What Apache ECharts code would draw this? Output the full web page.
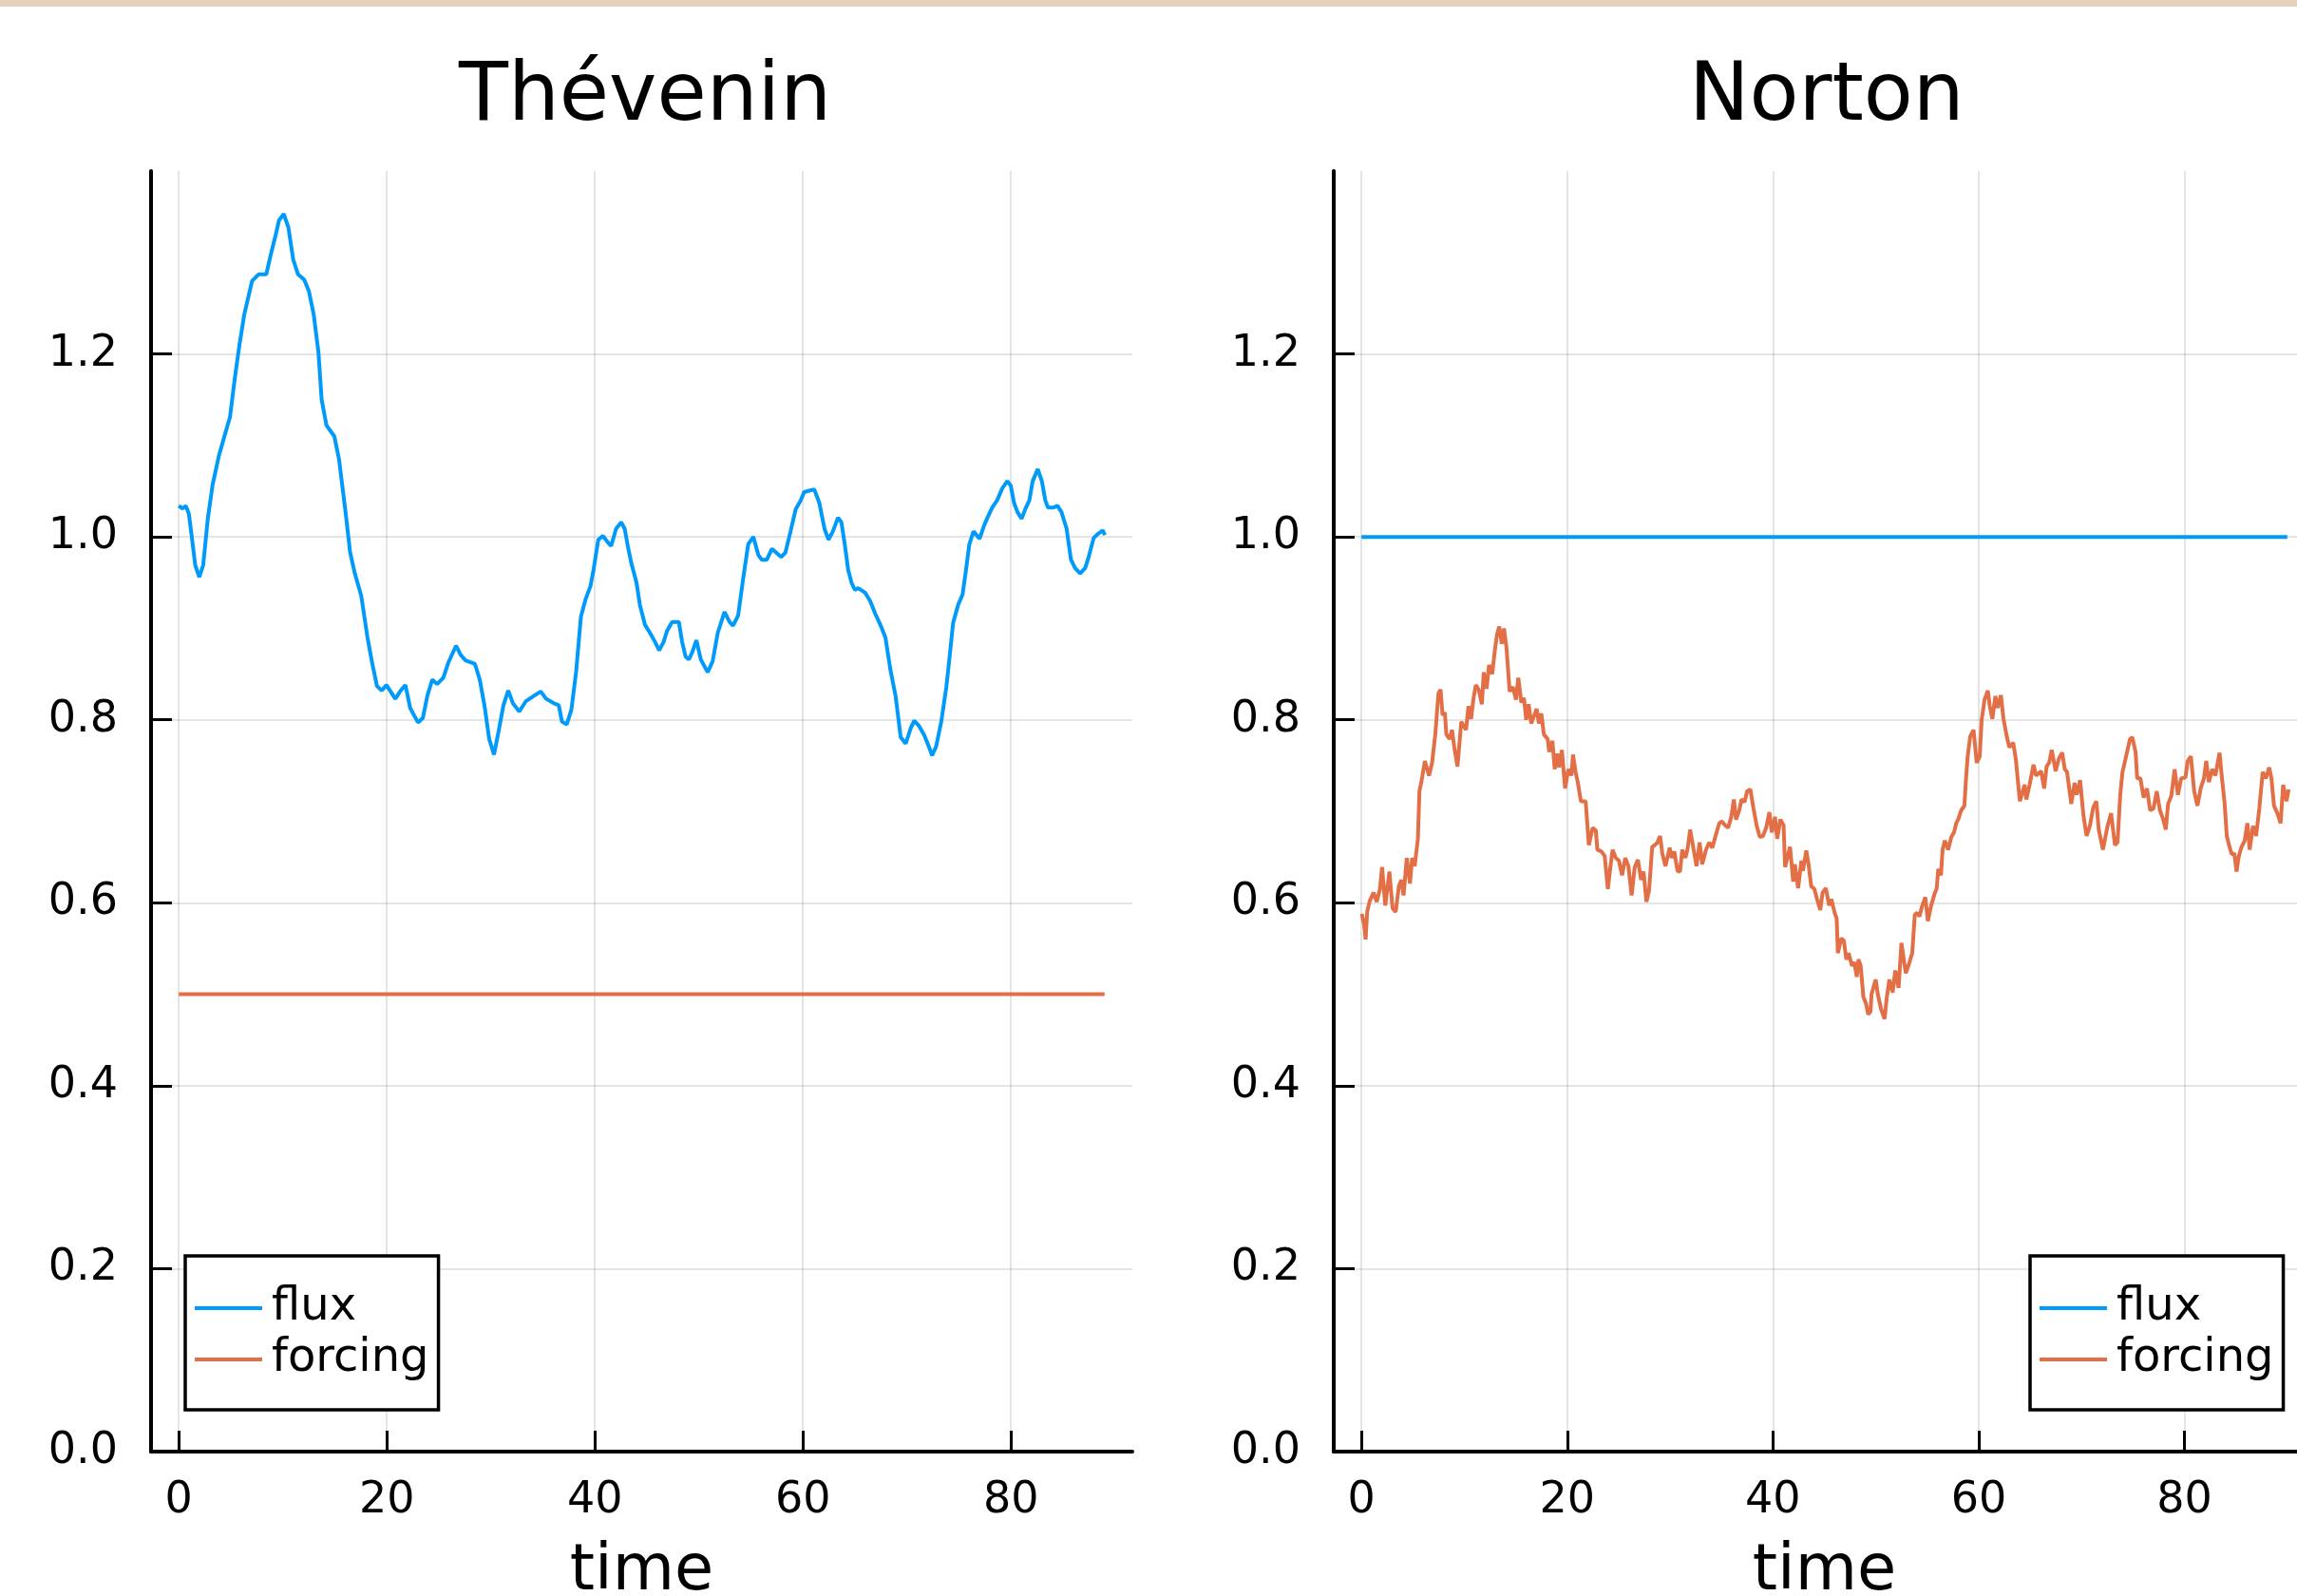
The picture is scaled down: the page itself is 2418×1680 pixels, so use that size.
<!DOCTYPE html>
<html><head><meta charset="utf-8">
<script src="https://cdn.jsdelivr.net/npm/echarts@6/dist/echarts.min.js"></script>
<style>html,body{margin:0;padding:0;background:#fff;overflow:hidden}#c{width:2418px;height:1680px}</style>
</head><body><div id="c"></div><script>
const panelTitles = ['Thévenin', 'Norton'];
const seriesNames = ['flux', 'forcing'];
const axisName = 'time';
const timeTicks = [0, 20, 40, 60, 80];
const valueTicks = [0, 0.2, 0.4, 0.6, 0.8, 1.0, 1.2];

const theveninTime = [0,0.36,0.67,0.97,1.28,1.58,1.97,2.34,2.79,3.25,3.86,4.46,4.92,5.38,5.83,6.29,7.05,7.66,8.41,8.87,9.33,9.63,10.09,10.54,11.0,11.46,12.06,12.52,12.97,13.43,13.73,14.19,14.95,15.4,16.01,16.47,16.92,17.53,18.14,18.59,19.05,19.5,19.96,20.42,20.81,21.33,21.79,22.24,23.0,23.46,23.91,24.37,24.83,25.43,25.89,26.65,27.1,27.56,28.47,28.93,29.38,29.84,30.3,30.75,31.21,31.67,32.12,32.73,33.34,34.25,34.8,35.31,36.07,36.53,36.83,37.29,37.74,38.2,38.66,39.11,39.57,39.87,40.33,40.78,41.24,41.56,42.04,42.53,42.86,43.18,43.51,44.0,44.32,44.81,45.3,45.79,46.18,46.6,46.93,47.42,48.07,48.39,48.72,49.04,49.37,49.76,50.18,50.84,51.32,51.81,52.46,52.95,53.28,53.77,54.25,54.74,55.23,55.72,56.05,56.53,57.02,57.51,57.9,58.32,58.81,59.3,59.79,60.11,60.77,61.09,61.58,62.07,62.46,62.88,63.37,63.7,64.02,64.35,64.67,65.0,65.32,65.98,66.46,66.95,67.44,67.93,68.42,68.91,69.4,69.88,70.37,70.7,71.18,71.67,72.1,72.42,72.81,73.3,73.79,74.12,74.44,74.93,75.35,75.68,76.0,76.4,76.56,76.98,77.37,77.7,78.19,78.67,79.16,79.65,79.98,80.3,80.63,81.02,81.44,81.77,82.09,82.58,82.97,83.3,83.56,84.05,84.47,84.86,85.35,85.77,86.16,86.65,87.14,87.47,87.96,88.44,88.83,89.03];
const theveninFlux = [1.034,1.031,1.034,1.025,0.997,0.969,0.956,0.969,1.02,1.057,1.089,1.113,1.131,1.173,1.21,1.243,1.28,1.287,1.287,1.31,1.331,1.346,1.353,1.338,1.303,1.287,1.281,1.268,1.243,1.201,1.15,1.122,1.11,1.085,1.029,0.983,0.96,0.936,0.89,0.862,0.837,0.832,0.838,0.83,0.823,0.832,0.838,0.813,0.797,0.802,0.827,0.844,0.839,0.846,0.862,0.881,0.871,0.865,0.861,0.844,0.816,0.779,0.762,0.788,0.816,0.832,0.818,0.809,0.82,0.827,0.831,0.823,0.818,0.816,0.798,0.795,0.811,0.853,0.913,0.932,0.946,0.964,0.997,1.001,0.994,0.99,1.009,1.016,1.009,0.989,0.971,0.95,0.926,0.904,0.895,0.885,0.876,0.885,0.897,0.907,0.907,0.885,0.869,0.866,0.874,0.887,0.866,0.852,0.864,0.895,0.918,0.907,0.903,0.914,0.954,0.992,1.0,0.98,0.975,0.975,0.987,0.982,0.978,0.983,1.006,1.03,1.04,1.049,1.051,1.052,1.037,1.009,0.997,1.006,1.021,1.016,0.992,0.964,0.95,0.942,0.944,0.939,0.93,0.916,0.904,0.89,0.854,0.826,0.781,0.774,0.791,0.799,0.793,0.783,0.771,0.761,0.771,0.798,0.836,0.871,0.906,0.926,0.937,0.964,0.992,1.006,1.008,0.998,1.011,1.02,1.032,1.04,1.053,1.061,1.056,1.037,1.027,1.02,1.032,1.04,1.061,1.074,1.061,1.04,1.032,1.032,1.034,1.027,1.009,0.975,0.966,0.96,0.966,0.978,0.999,1.004,1.007,1.002];
const theveninForcingTime = [0, 89];
const theveninForcing = [0.5, 0.5];

const nortonFluxTime = [0, 90];
const nortonFlux = [1.0, 1.0];
const nortonTime = [0.03,0.25,0.4,0.55,0.8,1.17,1.48,1.79,2.0,2.31,2.71,3.02,3.32,3.63,3.88,4.09,4.4,4.71,4.92,5.17,5.48,5.63,5.85,6.16,6.56,6.86,7.17,7.48,7.69,7.88,8.1,8.25,8.56,8.8,9.02,9.33,9.7,10.16,10.4,10.65,10.87,11.11,11.39,11.7,11.88,12.16,12.4,12.71,12.96,13.17,13.39,13.64,13.85,14.1,14.4,14.71,15.02,15.24,15.54,15.79,16.01,16.25,16.5,17.02,17.24,17.48,17.73,18.1,18.25,18.56,18.78,19.02,19.21,19.48,19.79,20.1,20.41,20.56,20.81,21.02,21.33,21.79,22.1,22.47,22.78,22.93,23.33,23.64,23.95,24.19,24.41,24.72,25.03,25.33,25.64,25.95,26.26,26.56,26.87,27.18,27.42,27.7,27.95,28.26,28.72,29.03,29.24,29.55,29.95,30.16,30.41,30.72,30.96,31.18,31.49,31.7,31.95,32.1,32.57,32.87,33.12,33.49,33.8,34.1,34.47,34.78,35.03,35.33,35.64,35.95,36.2,36.41,36.72,36.94,37.24,37.49,37.8,38.11,38.42,38.72,39.03,39.34,39.65,39.89,40.2,40.41,40.72,41.03,41.18,41.34,41.66,41.97,42.13,42.45,42.76,42.92,43.24,43.46,43.72,44.03,44.29,44.6,44.82,45.14,45.46,45.68,46.0,46.19,46.31,46.63,46.88,47.14,47.36,47.68,47.9,48.15,48.31,48.53,48.79,49.04,49.26,49.48,49.58,49.99,50.21,50.53,50.85,51.07,51.32,51.64,51.89,52.21,52.49,52.91,53.22,53.54,53.79,54.01,54.24,54.49,54.81,55.06,55.38,55.69,55.92,56.07,56.33,56.49,56.71,57.03,57.34,57.6,57.82,58.04,58.29,58.61,58.77,58.93,59.18,59.5,59.81,60.1,60.29,60.57,60.89,61.08,61.33,61.62,61.84,62.16,62.41,62.73,62.98,63.36,63.62,64.0,64.47,64.63,64.95,65.33,65.58,66.06,66.37,66.6,66.85,67.1,67.48,67.8,68.12,68.37,68.59,69.0,69.32,69.54,69.86,70.18,70.49,70.81,71.13,71.44,71.67,72.08,72.49,72.87,73.25,73.5,73.76,73.98,74.39,74.71,74.93,75.25,75.41,75.72,76.04,76.36,76.67,76.99,77.31,77.62,77.94,78.19,78.41,78.73,79.05,79.37,79.68,80.1,80.32,80.63,80.95,81.27,81.58,81.9,82.12,82.38,82.7,83.01,83.42,83.65,83.9,84.12,84.34,84.6,84.85,85.07,85.29,85.55,85.86,86.12,86.34,86.66,86.97,87.29,87.61,87.92,88.24,88.46,88.71,89.03,89.35,89.6,89.92,90.14];
const nortonForcing = [0.588,0.576,0.56,0.59,0.602,0.611,0.601,0.615,0.639,0.597,0.634,0.594,0.59,0.618,0.625,0.608,0.649,0.621,0.649,0.64,0.67,0.722,0.734,0.755,0.739,0.753,0.784,0.829,0.833,0.805,0.808,0.784,0.779,0.789,0.77,0.749,0.798,0.789,0.815,0.801,0.822,0.838,0.833,0.817,0.852,0.834,0.86,0.85,0.876,0.893,0.902,0.883,0.9,0.878,0.831,0.836,0.822,0.846,0.819,0.824,0.8,0.817,0.796,0.812,0.796,0.807,0.784,0.779,0.765,0.777,0.746,0.763,0.748,0.767,0.725,0.746,0.739,0.762,0.743,0.732,0.711,0.711,0.663,0.682,0.679,0.658,0.656,0.651,0.615,0.639,0.658,0.649,0.646,0.63,0.649,0.64,0.608,0.639,0.647,0.625,0.634,0.601,0.613,0.661,0.665,0.673,0.654,0.64,0.66,0.649,0.656,0.635,0.634,0.658,0.649,0.659,0.68,0.679,0.64,0.666,0.642,0.658,0.666,0.66,0.675,0.687,0.689,0.685,0.682,0.694,0.713,0.691,0.701,0.713,0.71,0.722,0.724,0.703,0.684,0.672,0.673,0.682,0.699,0.677,0.694,0.67,0.691,0.685,0.639,0.64,0.661,0.623,0.642,0.616,0.646,0.635,0.657,0.642,0.618,0.615,0.604,0.592,0.611,0.616,0.597,0.604,0.589,0.583,0.545,0.561,0.559,0.538,0.545,0.531,0.535,0.519,0.538,0.531,0.497,0.49,0.478,0.481,0.5,0.516,0.499,0.483,0.473,0.497,0.516,0.502,0.526,0.507,0.556,0.523,0.533,0.545,0.587,0.589,0.585,0.596,0.606,0.58,0.597,0.609,0.616,0.637,0.63,0.658,0.668,0.658,0.672,0.677,0.687,0.692,0.701,0.706,0.736,0.76,0.782,0.789,0.753,0.76,0.8,0.822,0.832,0.815,0.801,0.826,0.813,0.827,0.801,0.782,0.77,0.775,0.756,0.711,0.729,0.713,0.729,0.751,0.739,0.744,0.725,0.749,0.753,0.767,0.744,0.758,0.764,0.746,0.743,0.708,0.731,0.718,0.734,0.696,0.673,0.684,0.704,0.711,0.68,0.658,0.682,0.698,0.663,0.666,0.718,0.743,0.763,0.779,0.781,0.765,0.736,0.736,0.715,0.725,0.701,0.703,0.722,0.701,0.691,0.68,0.708,0.717,0.746,0.718,0.736,0.737,0.755,0.76,0.722,0.706,0.725,0.736,0.755,0.732,0.746,0.739,0.764,0.736,0.71,0.673,0.663,0.653,0.654,0.634,0.651,0.661,0.668,0.687,0.658,0.684,0.673,0.704,0.743,0.736,0.748,0.736,0.706,0.698,0.687,0.729,0.711,0.724];

const BLUE = '#009AFA', ORANGE = '#E36F47';
const FONT = 'DejaVu Sans';
const pairs = (xs, ys) => xs.map((x, i) => [x, ys[i]]);

const grids = [
  { left: 159, top: 180, width: 1033, height: 1348, xmin: -2.67, xmax: 91.67, titleLeft: 483, legendLeft: 195 },
  { left: 1404, top: 180, width: 1033, height: 1348, xmin: -2.7, xmax: 92.7, titleLeft: 1778, legendLeft: 2137 }
];

const option = {
  animation: false,
  backgroundColor: '#fff',
  graphic: [{ type: 'rect', shape: { x: 0, y: 0, width: 2418, height: 7 }, style: { fill: '#E6D2BA' } }],
  title: grids.map((g, i) => ({
    text: panelTitles[i], left: g.titleLeft, top: 61, padding: 0,
    textStyle: { fontFamily: FONT, fontSize: 85, fontWeight: 'normal', color: '#000' }
  })),
  legend: grids.map((g, i) => ({
    data: seriesNames, orient: 'vertical', left: g.legendLeft, top: 1322,
    padding: [28, 10, 26, 10], itemGap: 0, itemWidth: 71, itemHeight: 4, icon: 'rect',
    borderColor: '#000', borderWidth: 3.5, borderRadius: 0, backgroundColor: '#fff',
    selectedMode: false,
    textStyle: { fontFamily: FONT, fontSize: 48, color: '#000', lineHeight: 54, padding: [0, 0, 0, 5] }
  })),
  grid: grids.map(g => ({ left: g.left, top: g.top, width: g.width, height: g.height, containLabel: false, outerBoundsMode: 'none' })),
  xAxis: grids.map((g, i) => ({
    type: 'value', gridIndex: i, min: g.xmin, max: g.xmax,
    name: axisName, nameLocation: 'middle', nameGap: 94,
    nameTextStyle: { fontFamily: FONT, fontSize: 67, color: '#000' },
    axisLine: { onZero: false, lineStyle: { color: '#000', width: 4 } },
    axisTick: { inside: true, length: 22, lineStyle: { color: '#000', width: 3 }, customValues: timeTicks },
    axisLabel: { customValues: timeTicks, margin: 29, fontFamily: FONT, fontSize: 46, color: '#000' },
    splitLine: { show: true, lineStyle: { color: 'rgba(0,0,0,0.1)', width: 2 } }
  })),
  yAxis: grids.map((g, i) => ({
    type: 'value', gridIndex: i, min: 0, max: 1.4,
    axisLine: { show: true, onZero: false, lineStyle: { color: '#000', width: 4 } },
    axisTick: { show: true, inside: true, length: 22, lineStyle: { color: '#000', width: 3 }, customValues: valueTicks },
    axisLabel: { customValues: valueTicks, margin: 35, fontFamily: FONT, fontSize: 46, color: '#000',
      formatter: v => Number(v).toFixed(1) },
    splitLine: { show: true, lineStyle: { color: 'rgba(0,0,0,0.1)', width: 2 } }
  })),
  series: [
    { name: seriesNames[0], type: 'line', xAxisIndex: 0, yAxisIndex: 0, showSymbol: false, color: BLUE,
      lineStyle: { width: 4, color: BLUE }, data: pairs(theveninTime, theveninFlux) },
    { name: seriesNames[1], type: 'line', xAxisIndex: 0, yAxisIndex: 0, showSymbol: false, color: ORANGE,
      lineStyle: { width: 4, color: ORANGE }, data: pairs(theveninForcingTime, theveninForcing) },
    { name: seriesNames[0], type: 'line', xAxisIndex: 1, yAxisIndex: 1, showSymbol: false, color: BLUE,
      lineStyle: { width: 4, color: BLUE }, data: pairs(nortonFluxTime, nortonFlux) },
    { name: seriesNames[1], type: 'line', xAxisIndex: 1, yAxisIndex: 1, showSymbol: false, color: ORANGE,
      lineStyle: { width: 4, color: ORANGE }, data: pairs(nortonTime, nortonForcing) }
  ]
};
const chart = echarts.init(document.getElementById('c'), null, { renderer: 'canvas', width: 2418, height: 1680 });
chart.setOption(option);
</script></body></html>
